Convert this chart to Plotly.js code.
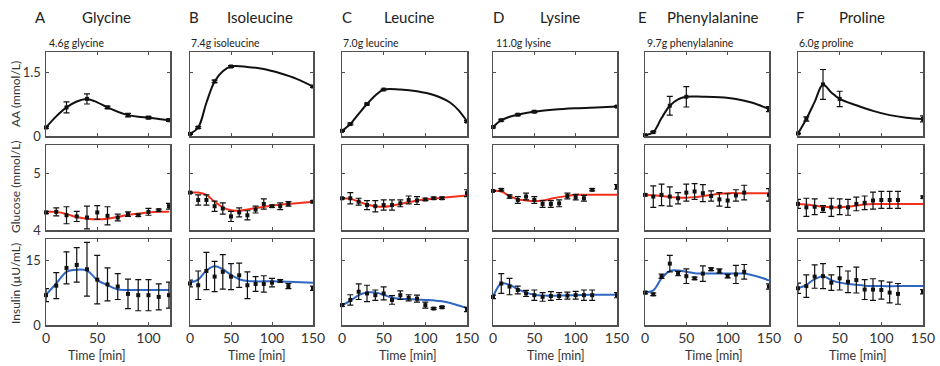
<!DOCTYPE html>
<html>
<head>
<meta charset="utf-8">
<script src="https://cdn.plot.ly/plotly-3.0.1.min.js"></script>
<style>html,body{margin:0;padding:0;background:#fff;}#chart{width:940px;height:366px;}</style>
</head>
<body>
<div id="chart"></div>
<script>
// ---------- data ----------
const letters = ["A", "B", "C", "D", "E", "F"];
const names = ["Glycine", "Isoleucine", "Leucine", "Lysine", "Phenylalanine", "Proline"];
const doses = ["4.6g glycine", "7.4g isoleucine", "7.0g leucine", "11.0g lysine", "9.7g phenylalanine", "6.0g proline"];
const rowTitles = ["AA (mmol/L)", "Glucose (mmol/L)", "Insulin (µU/mL)"];
const xTicks = [0, 50, 100, 150];
const yTicksAA = [0, 1.5];
const yTicksGlc = [4, 5];
const yTicksIns = [0, 15];

// AA measured
const aaT_gly = [0, 20, 40, 60, 80, 100, 120];
const aaT_other = [0, 10, 30, 50, 150];
const aa_gly = [0.20, 0.67, 0.87, 0.67, 0.49, 0.43, 0.37];
const aaErr_gly = [0.02, 0.13, 0.12, 0.03, 0.04, 0.03, 0.03];
const aa_ile = [0.05, 0.20, 1.28, 1.63, 1.16];
const aaErr_ile = [0.01, 0.02, 0.03, 0.02, 0.02];
const aa_leu = [0.12, 0.28, 0.75, 1.09, 0.34];
const aaErr_leu = [0.01, 0.02, 0.02, 0.01, 0.02];
const aa_lys = [0.21, 0.37, 0.50, 0.57, 0.69];
const aaErr_lys = [0.02, 0.02, 0.02, 0.02, 0.02];
const aa_phe = [0.02, 0.09, 0.71, 0.92, 0.63];
const aaErr_phe = [0.01, 0.02, 0.22, 0.24, 0.06];
const aa_pro = [0.06, 0.40, 1.21, 0.87, 0.40];
const aaErr_pro = [0.01, 0.05, 0.35, 0.18, 0.07];

// AA model curves
const aaFitT_gly = [0, 10, 20, 30, 40, 50, 60, 70, 80, 90, 100, 110, 120];
const aaFit_gly = [0.20, 0.46, 0.67, 0.81, 0.87, 0.79, 0.67, 0.57, 0.49, 0.45, 0.43, 0.40, 0.37];
const aaFitT_ile = [0, 10, 20, 30, 40, 50, 70, 90, 110, 130, 150];
const aaFit_ile = [0.05, 0.20, 0.78, 1.28, 1.52, 1.63, 1.62, 1.57, 1.47, 1.34, 1.16];
const aaFitT_leu = [0, 10, 20, 30, 40, 50, 70, 90, 110, 130, 140, 150];
const aaFit_leu = [0.12, 0.28, 0.52, 0.75, 0.95, 1.09, 1.09, 1.05, 0.96, 0.78, 0.60, 0.34];
const aaFitT_lys = [0, 10, 20, 30, 40, 50, 75, 100, 125, 150];
const aaFit_lys = [0.21, 0.37, 0.45, 0.50, 0.54, 0.57, 0.62, 0.65, 0.67, 0.69];
const aaFitT_phe = [0, 10, 20, 30, 40, 50, 70, 90, 110, 130, 150];
const aaFit_phe = [0.02, 0.09, 0.42, 0.71, 0.86, 0.92, 0.92, 0.91, 0.87, 0.78, 0.63];
const aaFitT_pro = [0, 10, 20, 30, 40, 50, 70, 90, 110, 130, 150];
const aaFit_pro = [0.06, 0.40, 0.80, 1.21, 1.02, 0.87, 0.72, 0.59, 0.49, 0.43, 0.40];

// sampling times for glucose / insulin
const tGly = [0, 10, 20, 30, 40, 50, 60, 70, 80, 90, 100, 110, 120];
const tOther = [0, 10, 20, 30, 40, 50, 60, 70, 80, 90, 100, 110, 120, 150];

// Glucose measured
const glc_gly = [4.31, 4.32, 4.26, 4.24, 4.22, 4.31, 4.25, 4.22, 4.28, 4.26, 4.32, 4.35, 4.42];
const glcErr_gly = [0.02, 0.07, 0.15, 0.09, 0.20, 0.12, 0.16, 0.06, 0.04, 0.02, 0.06, 0.02, 0.05];
const glc_ile = [4.66, 4.53, 4.53, 4.42, 4.38, 4.24, 4.31, 4.26, 4.36, 4.46, 4.42, 4.42, 4.46, 4.50];
const glcErr_ile = [0.01, 0.09, 0.09, 0.09, 0.10, 0.09, 0.08, 0.08, 0.06, 0.09, 0.02, 0.06, 0.04, 0.02];
const glc_leu = [4.56, 4.56, 4.50, 4.44, 4.42, 4.44, 4.44, 4.47, 4.53, 4.52, 4.54, 4.56, 4.56, 4.65];
const glcErr_leu = [0.01, 0.10, 0.06, 0.08, 0.10, 0.09, 0.09, 0.06, 0.07, 0.07, 0.02, 0.02, 0.02, 0.06];
const glc_lys = [4.69, 4.71, 4.59, 4.53, 4.59, 4.53, 4.46, 4.46, 4.47, 4.60, 4.58, 4.56, 4.71, 4.76];
const glcErr_lys = [0.01, 0.02, 0.03, 0.06, 0.06, 0.06, 0.06, 0.06, 0.06, 0.05, 0.05, 0.05, 0.02, 0.04];
const glc_phe = [4.62, 4.59, 4.62, 4.59, 4.56, 4.66, 4.68, 4.65, 4.60, 4.54, 4.52, 4.61, 4.66, 4.62];
const glcErr_phe = [0.02, 0.19, 0.19, 0.17, 0.10, 0.15, 0.14, 0.15, 0.09, 0.12, 0.12, 0.10, 0.13, 0.11];
const glc_pro = [4.46, 4.40, 4.41, 4.37, 4.40, 4.41, 4.40, 4.46, 4.48, 4.52, 4.53, 4.53, 4.53, 4.58];
const glcErr_pro = [0.08, 0.16, 0.14, 0.06, 0.16, 0.14, 0.14, 0.12, 0.12, 0.15, 0.15, 0.15, 0.15, 0.02];

// Glucose model curves
const glcFitT_gly = [0, 10, 20, 30, 40, 50, 60, 70, 80, 90, 100, 110, 120];
const glcFit_gly = [4.32, 4.32, 4.28, 4.23, 4.20, 4.19, 4.20, 4.23, 4.27, 4.29, 4.31, 4.32, 4.32];
const glcFitT = [0, 10, 20, 30, 40, 50, 60, 70, 80, 90, 100, 120, 150];
const glcFit_ile = [4.66, 4.66, 4.62, 4.50, 4.40, 4.35, 4.34, 4.36, 4.39, 4.41, 4.43, 4.46, 4.50];
const glcFit_leu = [4.56, 4.55, 4.50, 4.45, 4.42, 4.41, 4.43, 4.46, 4.49, 4.52, 4.54, 4.57, 4.61];
const glcFit_lys = [4.69, 4.68, 4.60, 4.54, 4.52, 4.51, 4.52, 4.55, 4.58, 4.60, 4.62, 4.62, 4.62];
const glcFit_phe = [4.62, 4.61, 4.60, 4.58, 4.57, 4.57, 4.58, 4.60, 4.62, 4.64, 4.65, 4.65, 4.65];
const glcFit_pro = [4.46, 4.45, 4.43, 4.41, 4.40, 4.40, 4.41, 4.43, 4.45, 4.46, 4.46, 4.46, 4.46];

// Insulin measured
const ins_gly = [6.9, 9.1, 13.2, 13.9, 12.9, 10.5, 9.4, 8.9, 7.2, 6.9, 6.9, 6.5, 6.9];
const insErr_gly = [1.5, 3.0, 3.7, 4.0, 6.2, 5.6, 3.8, 3.0, 3.4, 3.6, 3.6, 3.0, 3.0];
const ins_ile = [9.6, 9.2, 12.5, 11.2, 12.3, 11.2, 11.5, 9.2, 9.5, 9.5, 9.8, 10.2, 9.0, 8.5];
const insErr_ile = [0.8, 3.3, 4.3, 3.5, 4.0, 3.0, 2.8, 3.1, 1.7, 1.9, 1.0, 0.3, 0.6, 0.5];
const ins_leu = [4.6, 5.8, 7.7, 7.3, 6.9, 7.3, 5.8, 6.9, 6.3, 6.1, 4.6, 3.8, 4.1, 3.6];
const insErr_leu = [0.3, 1.2, 1.8, 1.9, 1.2, 1.5, 1.0, 1.0, 0.7, 0.8, 0.7, 0.2, 0.2, 0.5];
const ins_lys = [6.5, 9.6, 8.9, 8.1, 7.3, 6.9, 6.5, 6.7, 6.7, 6.8, 6.9, 6.9, 6.9, 6.9];
const insErr_lys = [0.4, 2.3, 1.9, 0.9, 0.7, 1.2, 1.0, 1.0, 0.8, 0.8, 0.9, 1.2, 1.2, 0.6];
const ins_phe = [7.5, 7.1, 11.3, 14.2, 11.9, 11.3, 10.8, 11.9, 12.9, 12.5, 11.3, 11.7, 12.3, 8.9];
const insErr_phe = [0.3, 0.3, 0.5, 1.9, 0.5, 1.7, 0.3, 1.8, 0.3, 0.5, 0.4, 2.1, 1.7, 0.6];
const ins_pro = [8.5, 9.0, 11.2, 11.3, 9.8, 10.8, 10.0, 10.4, 8.2, 8.2, 8.1, 7.5, 7.2, 7.7];
const insErr_pro = [1.2, 2.6, 2.7, 2.9, 1.8, 2.7, 2.5, 3.0, 2.3, 2.5, 2.1, 2.4, 2.4, 0.5];

// Insulin model curves
const insFitT_gly = [0, 10, 20, 30, 40, 50, 60, 70, 80, 90, 100, 110, 120];
const insFit_gly = [7.0, 9.6, 12.3, 12.8, 12.6, 10.4, 9.2, 8.2, 8.1, 8.1, 8.1, 8.1, 8.1];
const insFitT_ile = [0, 10, 20, 30, 40, 50, 60, 70, 80, 100, 120, 150];
const insFit_ile = [9.8, 10.5, 12.6, 13.6, 12.9, 11.6, 10.6, 10.2, 10.1, 10.1, 10.0, 9.8];
const insFitT_leu = [0, 10, 20, 30, 40, 50, 60, 70, 80, 90, 100, 110, 120, 130, 140, 150];
const insFit_leu = [4.6, 5.6, 6.9, 7.5, 7.5, 7.0, 6.3, 6.1, 6.0, 5.9, 5.8, 5.7, 5.5, 5.1, 4.5, 3.9];
const insFitT_lys = [0, 10, 20, 30, 40, 50, 60, 80, 100, 120, 150];
const insFit_lys = [6.5, 9.6, 9.3, 8.3, 7.5, 7.0, 6.8, 6.8, 6.9, 7.0, 7.0];
const insFitT_phe = [0, 10, 20, 30, 40, 50, 60, 80, 100, 120, 130, 140, 150];
const insFit_phe = [7.5, 8.0, 10.8, 12.5, 12.6, 12.3, 12.0, 11.9, 11.9, 11.9, 11.5, 11.0, 10.3];
const insFitT_pro = [0, 10, 20, 30, 40, 50, 60, 70, 80, 100, 120, 150];
const insFit_pro = [8.5, 9.3, 10.6, 11.3, 10.4, 9.8, 9.5, 9.3, 9.1, 9.0, 9.0, 9.0];

const xMax = [121, 150, 150, 150, 150, 150];

// ---------- assemble ----------
const panels = [
  [ // AA row
    {t: aaT_gly, y: aa_gly, e: aaErr_gly, ft: aaFitT_gly, fy: aaFit_gly},
    {t: aaT_other, y: aa_ile, e: aaErr_ile, ft: aaFitT_ile, fy: aaFit_ile},
    {t: aaT_other, y: aa_leu, e: aaErr_leu, ft: aaFitT_leu, fy: aaFit_leu},
    {t: aaT_other, y: aa_lys, e: aaErr_lys, ft: aaFitT_lys, fy: aaFit_lys},
    {t: aaT_other, y: aa_phe, e: aaErr_phe, ft: aaFitT_phe, fy: aaFit_phe},
    {t: aaT_other, y: aa_pro, e: aaErr_pro, ft: aaFitT_pro, fy: aaFit_pro}
  ],
  [ // glucose
    {t: tGly, y: glc_gly, e: glcErr_gly, ft: glcFitT_gly, fy: glcFit_gly},
    {t: tOther, y: glc_ile, e: glcErr_ile, ft: glcFitT, fy: glcFit_ile},
    {t: tOther, y: glc_leu, e: glcErr_leu, ft: glcFitT, fy: glcFit_leu},
    {t: tOther, y: glc_lys, e: glcErr_lys, ft: glcFitT, fy: glcFit_lys},
    {t: tOther, y: glc_phe, e: glcErr_phe, ft: glcFitT, fy: glcFit_phe},
    {t: tOther, y: glc_pro, e: glcErr_pro, ft: glcFitT, fy: glcFit_pro}
  ],
  [ // insulin
    {t: tGly, y: ins_gly, e: insErr_gly, ft: insFitT_gly, fy: insFit_gly},
    {t: tOther, y: ins_ile, e: insErr_ile, ft: insFitT_ile, fy: insFit_ile},
    {t: tOther, y: ins_leu, e: insErr_leu, ft: insFitT_leu, fy: insFit_leu},
    {t: tOther, y: ins_lys, e: insErr_lys, ft: insFitT_lys, fy: insFit_lys},
    {t: tOther, y: ins_phe, e: insErr_phe, ft: insFitT_phe, fy: insFit_phe},
    {t: tOther, y: ins_pro, e: insErr_pro, ft: insFitT_pro, fy: insFit_pro}
  ]
];

const W = 940, H = 366;
const colPx = [[46, 170], [190, 313], [342, 467], [493, 617], [645, 769], [798, 923]];
const rowPx = [[52, 136], [145, 230], [239, 325]];
const rowRange = [[0, 1.97], [4, 5.5], [0, 19.9]];
const rowTicks = [yTicksAA, yTicksGlc, yTicksIns];
const fitColor = ["#111111", "#f2301c", "#2f67c2"];
const axColor = "#505050";
const FONT = "Lato, 'Liberation Sans', sans-serif";

const traces = [];
const layout = {
  width: W, height: H,
  margin: {l: 0, r: 0, t: 0, b: 0},
  paper_bgcolor: "#ffffff", plot_bgcolor: "#ffffff",
  showlegend: false,
  font: {family: FONT, color: "#333"},
  annotations: []
};

let k = 0;
for (let r = 0; r < 3; r++) {
  for (let c = 0; c < 6; c++) {
    k++;
    const xa = "x" + (k === 1 ? "" : k), ya = "y" + (k === 1 ? "" : k);
    const xKey = "xaxis" + (k === 1 ? "" : k), yKey = "yaxis" + (k === 1 ? "" : k);
    const p = panels[r][c];
    layout[xKey] = {
      domain: [colPx[c][0] / W, colPx[c][1] / W],
      range: [0, xMax[c]], anchor: ya,
      showline: true, mirror: "ticks", linecolor: axColor, linewidth: 1.5,
      ticks: "inside", ticklen: 3, tickwidth: 1, tickcolor: axColor,
      tickvals: xTicks, showticklabels: r === 2,
      tickfont: {size: 14, color: "#333", family: FONT},
      showgrid: false, zeroline: false, fixedrange: true
    };
    layout[yKey] = {
      domain: [1 - rowPx[r][1] / H, 1 - rowPx[r][0] / H],
      range: rowRange[r], anchor: xa,
      showline: true, mirror: "ticks", linecolor: axColor, linewidth: 1.5,
      ticks: "inside", ticklen: 3, tickwidth: 1, tickcolor: axColor,
      tickvals: rowTicks[r], showticklabels: c === 0,
      tickfont: {size: 13, color: "#333", family: FONT},
      ticklabelstandoff: 1,
      showgrid: false, zeroline: false, fixedrange: true
    };
    traces.push({
      type: "scatter", mode: "lines", x: p.ft, y: p.fy, xaxis: xa, yaxis: ya,
      line: {color: fitColor[r], width: 2, shape: "spline", smoothing: 1},
      hoverinfo: "skip"
    });
    traces.push({
      type: "scatter", mode: "markers", x: p.t, y: p.y, xaxis: xa, yaxis: ya,
      marker: {symbol: "square", size: 4, color: "#111"},
      error_y: {type: "data", array: p.e, visible: true, color: "#111", thickness: 1.2, width: 3},
      cliponaxis: false
    });
  }
}

// titles
const letterX = [40, 194, 347, 498, 642, 800];
const nameX = [106, 260, 409, 560, 712, 862];
const doseX = [47, 189, 341, 494, 645, 797];
const timeX = [97, 257, 408, 556, 714, 858];
for (let c = 0; c < 6; c++) {
  layout.annotations.push({xref: "paper", yref: "paper", x: letterX[c] / W, y: 1 - 17 / H,
    xanchor: "center", yanchor: "middle", showarrow: false, text: letters[c],
    font: {size: 15, color: "#222", family: FONT}});
  layout.annotations.push({xref: "paper", yref: "paper", x: nameX[c] / W, y: 1 - 17 / H,
    xanchor: "center", yanchor: "middle", showarrow: false, text: names[c],
    font: {size: 15, color: "#222", family: FONT}});
  layout.annotations.push({xref: "paper", yref: "paper", x: doseX[c] / W, y: 1 - 43 / H,
    xanchor: "left", yanchor: "middle", showarrow: false, text: doses[c],
    font: {size: 10.5, color: "#222", family: FONT}});
  layout.annotations.push({xref: "paper", yref: "paper", x: timeX[c] / W, y: 1 - 355 / H,
    xanchor: "center", yanchor: "middle", showarrow: false, text: "Time [min]",
    font: {size: 12.5, color: "#333", family: FONT}});
}
const rowTitleY = [94, 187, 284];
for (let r = 0; r < 3; r++) {
  layout.annotations.push({xref: "paper", yref: "paper", x: 15 / W, y: 1 - rowTitleY[r] / H,
    xanchor: "center", yanchor: "middle", showarrow: false, text: rowTitles[r], textangle: -90,
    font: {size: 12, color: "#333", family: FONT}});
}

Plotly.newPlot("chart", traces, layout, {staticPlot: true, displayModeBar: false});
</script>
</body>
</html>
